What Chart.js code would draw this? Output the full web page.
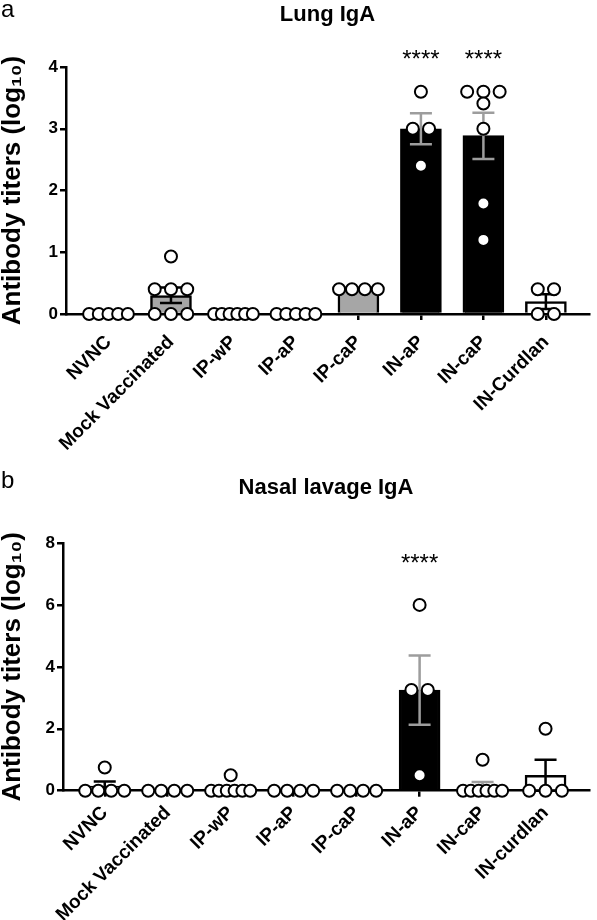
<!DOCTYPE html>
<html>
<head>
<meta charset="utf-8">
<script src="https://cdn.jsdelivr.net/npm/chart.js@4.4.1/dist/chart.umd.min.js"></script>
<style>
  body { margin: 0; background: #fff; width: 597px; height: 920px; position: relative; overflow: hidden; font-family: "Liberation Sans", Arial, sans-serif; }
  .panel { position: absolute; left: 0; width: 597px; }
  .letter { position: absolute; left: 1px; font-size: 24px; line-height: 24px; color: #000; }
</style>
</head>
<body>
<div class="panel" style="top:0;height:470px"><canvas id="lungChart" width="597" height="470"></canvas></div>
<div class="panel" style="top:470px;height:450px"><canvas id="nasalChart" width="597" height="450"></canvas></div>
<div class="letter" style="top:-3px">a</div>
<div class="letter" style="top:468px">b</div>
<script>
// === Lung IgA data ===
const lungGroups = ["NVNC", "Mock Vaccinated", "IP-wP", "IP-aP", "IP-caP", "IN-aP", "IN-caP", "IN-Curdlan"];
const lungMeans = [0, 0.30, 0, 0, 0.40, 3.00, 2.89, 0.20];
const lungSemHigh = [0, 0.43, 0, 0, 0.40, 3.25, 3.26, 0.32];
const lungSemLow = [0, 0.18, 0, 0, 0.40, 2.75, 2.51, 0.08];
const lungPoints = [
  [0, 0, 0, 0, 0],
  [0, 0, 0, 0.4, 0.4, 0.4, 0.93],
  [0, 0, 0, 0, 0, 0],
  [0, 0, 0, 0, 0],
  [0.4, 0.4, 0.4, 0.4],
  [3.6, 3.0, 3.0, 2.4],
  [3.6, 3.6, 3.6, 3.41, 3.0, 1.79, 1.2],
  [0.4, 0.4, 0, 0],
];
const lungStars = ["", "", "", "", "", "****", "****", ""];
const lungYTicks = [0, 1, 2, 3, 4];

// === Nasal lavage IgA data ===
const nasalGroups = ["NVNC", "Mock Vaccinated", "IP-wP", "IP-aP", "IP-caP", "IN-aP", "IN-caP", "IN-curdlan"];
const nasalMeans = [0.15, 0, 0.07, 0, 0, 3.25, 0.14, 0.50];
const nasalSemHigh = [0.30, 0, 0.14, 0, 0, 4.37, 0.28, 1.00];
const nasalSemLow = [0, 0, 0, 0, 0, 2.13, 0, 0];
const nasalPoints = [
  [0.75, 0, 0, 0, 0],
  [0, 0, 0, 0],
  [0.5, 0, 0, 0, 0, 0, 0],
  [0, 0, 0, 0],
  [0, 0, 0, 0],
  [6.0, 3.25, 3.25, 0.5],
  [1.0, 0, 0, 0, 0, 0, 0],
  [2.0, 0, 0, 0],
];
const nasalStars = ["", "", "", "", "", "****", "", ""];
const nasalYTicks = [0, 2, 4, 6, 8];

// bar fill per group (same scheme in both panels)
const barColors = ["#ffffff", "#a6a6a6", "#ffffff", "#ffffff", "#a6a6a6", "#000000", "#000000", "#ffffff"];
const errColors = ["#000", "#000", "#000", "#000", "#000", "#9d9d9d", "#9d9d9d", "#000"];

Chart.defaults.font.family = '"Liberation Sans", Arial, sans-serif';
Chart.defaults.color = "#000";

// spread equal values side by side like a scatter dot plot
function spreadPoints(points) {
  const out = [];
  points.forEach((vals, i) => {
    const rows = {};
    vals.forEach((v) => { (rows[v] = rows[v] || []).push(v); });
    Object.keys(rows).forEach((key) => {
      const n = rows[key].length;
      const step = n > 1 ? Math.min(0.26, 0.62 / (n - 1)) : 0;
      rows[key].forEach((v, k) => out.push({ x: i + (k - (n - 1) / 2) * step, y: v }));
    });
  });
  return out;
}

// error bars (drawn right after the bars) and significance stars
function makeOverlay(high, low, stars, starLevel) {
  return {
    id: "overlay",
    afterDatasetDraw(chart, args) {
      if (args.index !== 0) return;
      const { ctx, scales: { x, y } } = chart;
      ctx.save();
      ctx.lineWidth = 2.5;
      high.forEach((hi, i) => {
        const lo = low[i];
        if (hi === lo) return;
        const px = x.getPixelForValue(i);
        const yHi = y.getPixelForValue(hi);
        const yLo = y.getPixelForValue(lo);
        ctx.strokeStyle = errColors[i];
        ctx.beginPath();
        ctx.moveTo(px, yHi); ctx.lineTo(px, yLo);
        ctx.moveTo(px - 11, yHi); ctx.lineTo(px + 11, yHi);
        ctx.moveTo(px - 11, yLo); ctx.lineTo(px + 11, yLo);
        ctx.stroke();
      });
      ctx.restore();
    },
    afterDraw(chart) {
      const { ctx, scales: { x, y } } = chart;
      ctx.save();
      ctx.fillStyle = "#000";
      ctx.font = '24px "Liberation Sans", Arial, sans-serif';
      ctx.textAlign = "center";
      ctx.textBaseline = "middle";
      stars.forEach((s, i) => {
        if (s) ctx.fillText(s, x.getPixelForValue(i), y.getPixelForValue(starLevel));
      });
      ctx.restore();
    },
  };
}

function buildChart(id, opts) {
  const axisGrid = { display: true, offset: false, drawOnChartArea: false, drawTicks: true, tickLength: 6, color: "#000", lineWidth: 2.5 };
  const axisBorder = { display: true, color: "#000", width: 2.5 };
  return new Chart(document.getElementById(id), {
    type: "bar",
    data: {
      datasets: [
        {
          type: "bar",
          data: opts.means.map((v, i) => ({ x: i, y: v })),
          backgroundColor: barColors,
          borderColor: "#000",
          borderWidth: 2.5,
          barThickness: 41,
          order: 2,
        },
        {
          type: "scatter",
          data: spreadPoints(opts.points),
          pointRadius: 6,
          pointBorderWidth: 2,
          pointBackgroundColor: "#fff",
          pointBorderColor: "#000",
          clip: false,
          order: 1,
        },
      ],
    },
    options: {
      responsive: false,
      animation: false,
      layout: { padding: { left: 0, right: opts.padRight, top: 0, bottom: 0 } },
      plugins: {
        legend: { display: false },
        tooltip: { enabled: false },
        title: {
          display: true,
          text: opts.title,
          fullSize: false,
          color: "#000",
          font: { size: 22, weight: "bold", lineHeight: 1.2 },
          padding: opts.titlePad,
        },
      },
      scales: {
        x: {
          type: "linear",
          offset: false,
          bounds: "data",
          min: opts.xMin,
          max: 7.69,
          afterBuildTicks: (s) => { s.ticks = opts.groups.map((_, i) => ({ value: i })); },
          afterFit: (s) => { s.height = opts.xAxisHeight; },
          grid: axisGrid,
          border: axisBorder,
          ticks: {
            autoSkip: false,
            maxRotation: 45,
            minRotation: 45,
            padding: opts.labelPad,
            font: { size: 19, weight: "bold" },
            callback: (v, i) => opts.groups[i],
          },
        },
        y: {
          min: 0,
          max: opts.yTicks[opts.yTicks.length - 1],
          afterBuildTicks: (s) => { s.ticks = opts.yTicks.map((v) => ({ value: v })); },
          afterFit: (s) => { s.width = opts.yAxisWidth; },
          grid: axisGrid,
          border: axisBorder,
          ticks: { padding: 2, font: { size: 17, weight: "bold" } },
          title: {
            display: true,
            text: "Antibody titers (log₁₀)",
            font: { size: 26, weight: "bold", lineHeight: 1 },
            padding: 0,
          },
        },
      },
    },
    plugins: [makeOverlay(opts.high, opts.low, opts.stars, opts.starLevel)],
  });
}

buildChart("lungChart", {
  title: "Lung IgA",
  groups: lungGroups,
  means: lungMeans,
  high: lungSemHigh,
  low: lungSemLow,
  points: lungPoints,
  stars: lungStars,
  starLevel: 4.1,
  yTicks: lungYTicks,
  xMin: -0.68,
  xAxisHeight: 156,
  yAxisWidth: 66,
  padRight: 1,
  labelPad: 11,
  titlePad: { top: 2, bottom: 38.6 },
});

buildChart("nasalChart", {
  title: "Nasal lavage IgA",
  groups: nasalGroups,
  means: nasalMeans,
  high: nasalSemHigh,
  low: nasalSemLow,
  points: nasalPoints,
  stars: nasalStars,
  starLevel: 7.3,
  yTicks: nasalYTicks,
  xMin: -0.663,
  xAxisHeight: 129.3,
  yAxisWidth: 63,
  padRight: 5,
  labelPad: 5,
  titlePad: { top: 5, bottom: 41.6 },
});
</script>
</body>
</html>
